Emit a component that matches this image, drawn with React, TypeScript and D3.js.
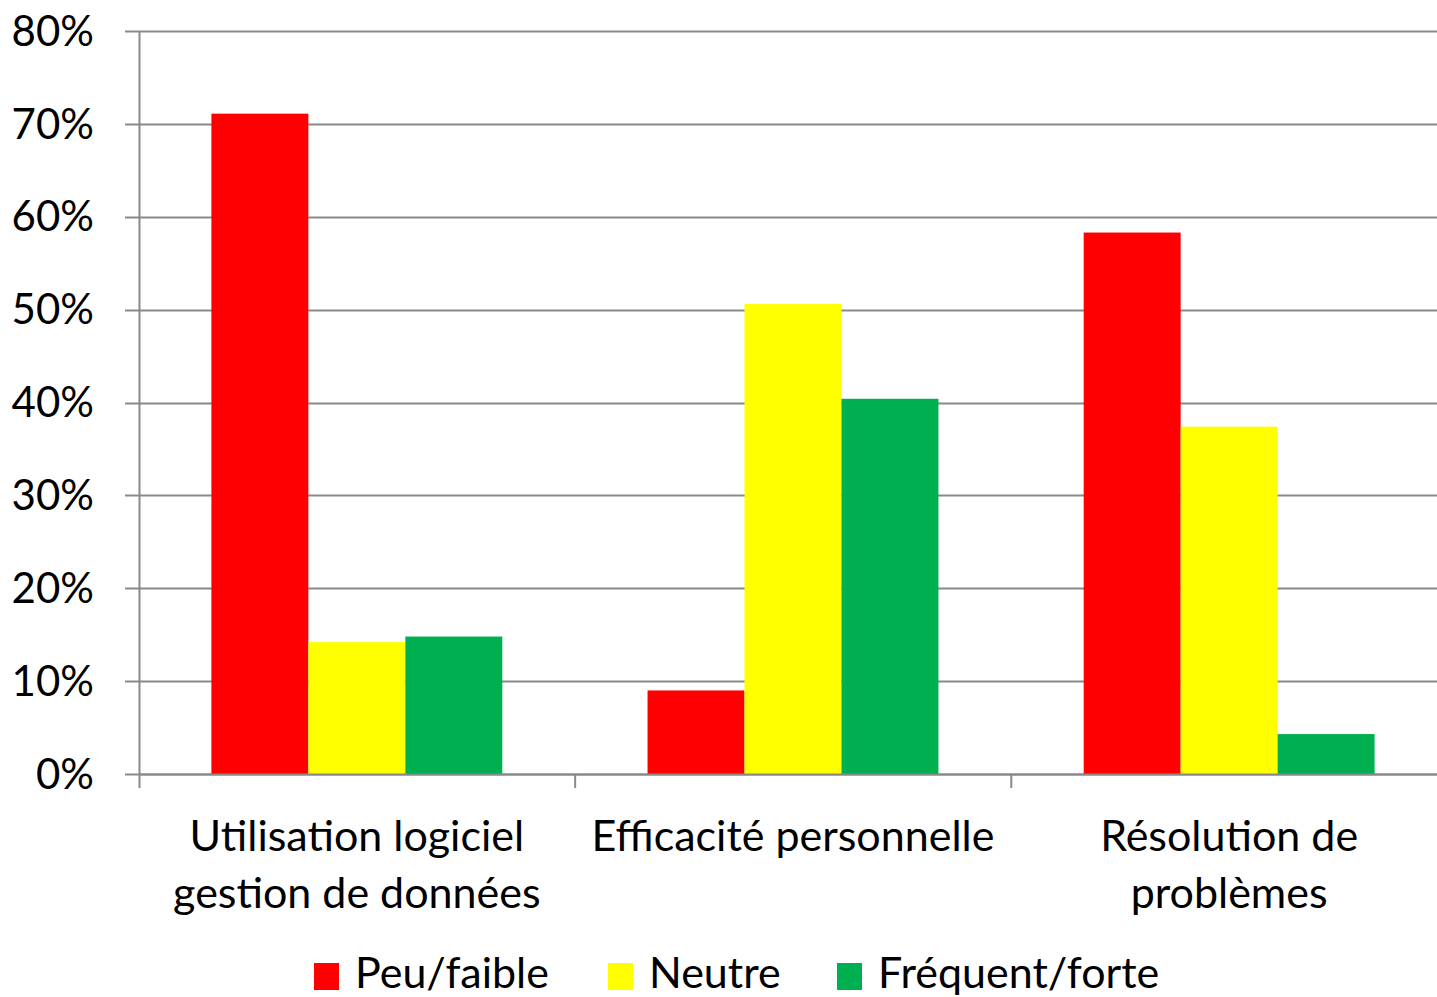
import React, { useEffect, useRef } from "react";
import * as d3 from "d3";

const categories = [
  ["Utilisation logiciel", "gestion de données"],
  ["Efficacité personnelle"],
  ["Résolution de", "problèmes"],
];
const seriesNames = ["Peu/faible", "Neutre", "Fréquent/forte"];
const seriesColors = ["#FF0000", "#FFFF00", "#00B050"];
const peuValues = [0.711, 0.09, 0.583];
const neutreValues = [0.142, 0.506, 0.374];
const frequentValues = [0.148, 0.404, 0.043];
const yTicks = [0, 0.1, 0.2, 0.3, 0.4, 0.5, 0.6, 0.7, 0.8];

const FONT = "Lato, 'Open Sans', sans-serif";
const GRID = "#898989";

const App = () => {
  const svgRef = useRef(null);

  useEffect(() => {
    const width = 1437;
    const height = 997;
    const margin = { top: 31, right: -10, bottom: 223, left: 139 };
    const plotBottom = height - margin.bottom;
    const plotRight = width - margin.right;

    const svg = d3.select(svgRef.current);
    svg.selectAll("*").remove();

    const catIdx = categories.map((_, i) => String(i));
    const x0 = d3
      .scaleBand()
      .domain(catIdx)
      .range([margin.left, plotRight])
      .paddingInner(0.333)
      .paddingOuter(0.166);
    const x1 = d3
      .scaleBand()
      .domain(seriesNames)
      .range([0, x0.bandwidth()])
      .padding(0);
    const y = d3.scaleLinear().domain([0, 0.8]).range([plotBottom, margin.top]);

    const series = [peuValues, neutreValues, frequentValues];

    // gridlines
    svg
      .append("g")
      .selectAll("line")
      .data(yTicks)
      .enter()
      .append("line")
      .attr("x1", margin.left - 14)
      .attr("x2", width)
      .attr("y1", (d) => Math.round(y(d)) + 0.5)
      .attr("y2", (d) => Math.round(y(d)) + 0.5)
      .attr("stroke", GRID)
      .attr("stroke-width", 2);

    // bars
    const groups = svg
      .append("g")
      .selectAll("g")
      .data(catIdx)
      .enter()
      .append("g")
      .attr("transform", (d) => "translate(" + x0(d) + ",0)");

    groups
      .selectAll("rect")
      .data((d, i) => seriesNames.map((s, k) => ({ s, k, v: series[k][i] })))
      .enter()
      .append("rect")
      .attr("x", (d) => x1(d.s))
      .attr("width", x1.bandwidth())
      .attr("y", (d) => y(d.v))
      .attr("height", (d) => plotBottom - y(d.v))
      .attr("fill", (d) => seriesColors[d.k]);

    // left axis line
    svg
      .append("line")
      .attr("x1", margin.left + 0.5)
      .attr("x2", margin.left + 0.5)
      .attr("y1", margin.top)
      .attr("y2", plotBottom + 14)
      .attr("stroke", GRID)
      .attr("stroke-width", 2);

    // bottom axis line + ticks between categories
    svg
      .append("line")
      .attr("x1", margin.left)
      .attr("x2", width)
      .attr("y1", plotBottom + 0.5)
      .attr("y2", plotBottom + 0.5)
      .attr("stroke", GRID)
      .attr("stroke-width", 2);

    const step = x0.step();
    svg
      .append("g")
      .selectAll("line")
      .data(d3.range(1, categories.length))
      .enter()
      .append("line")
      .attr("x1", (d) => margin.left + d * step)
      .attr("x2", (d) => margin.left + d * step)
      .attr("y1", plotBottom)
      .attr("y2", plotBottom + 14)
      .attr("stroke", GRID)
      .attr("stroke-width", 2);

    // y labels
    svg
      .append("g")
      .selectAll("text")
      .data(yTicks)
      .enter()
      .append("text")
      .attr("x", 94)
      .attr("y", (d) => y(d))
      .attr("dy", "0.35em")
      .attr("text-anchor", "end")
      .style("font-family", FONT)
      .style("font-size", "42px")
      .attr("fill", "#000")
      .text((d) => d3.format(".0%")(d));

    // category labels
    const catText = svg
      .append("g")
      .selectAll("text")
      .data(categories)
      .enter()
      .append("text")
      .attr("x", (d, i) => x0(String(i)) + x0.bandwidth() / 2)
      .attr("y", 851)
      .attr("text-anchor", "middle")
      .style("font-family", FONT)
      .style("font-size", "43px")
      .attr("fill", "#000");
    catText
      .selectAll("tspan")
      .data((d) => d)
      .enter()
      .append("tspan")
      .attr("x", function () {
        return d3.select(this.parentNode).attr("x");
      })
      .attr("dy", (d, i) => (i === 0 ? 0 : 57))
      .text((d) => d);

    // legend
    const legendX = [314, 608, 837];
    const legend = svg
      .append("g")
      .selectAll("g")
      .data(seriesNames)
      .enter()
      .append("g")
      .attr("transform", (d, i) => "translate(" + legendX[i] + ",963)");
    legend
      .append("rect")
      .attr("width", 25)
      .attr("height", 27)
      .attr("fill", (d, i) => seriesColors[i]);
    legend
      .append("text")
      .attr("x", 41)
      .attr("y", 25)
      .style("font-family", FONT)
      .style("font-size", "43px")
      .attr("fill", "#000")
      .text((d) => d);
  }, []);

  return (
    <svg
      ref={svgRef}
      width="1437"
      height="997"
      style={{ position: "absolute", left: 0, top: 0, background: "#fff" }}
    ></svg>
  );
};

export default App;
